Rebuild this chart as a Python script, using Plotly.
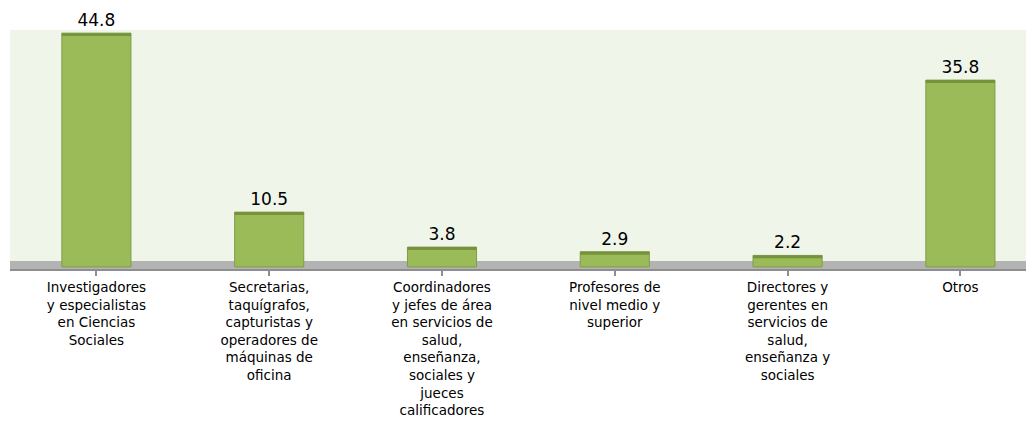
import plotly.graph_objects as go

categories = [
    "Investigadores<br>y especialistas<br>en Ciencias<br>Sociales",
    "Secretarias,<br>taquígrafos,<br>capturistas y<br>operadores de<br>máquinas de<br>oficina",
    "Coordinadores<br>y jefes de área<br>en servicios de<br>salud,<br>enseñanza,<br>sociales y<br>jueces<br>calificadores",
    "Profesores de<br>nivel medio y<br>superior",
    "Directores y<br>gerentes en<br>servicios de<br>salud,<br>enseñanza y<br>sociales",
    "Otros",
]
values = [44.8, 10.5, 3.8, 2.9, 2.2, 35.8]
value_labels = ["44.8", "10.5", "3.8", "2.9", "2.2", "35.8"]

FONT = "DejaVu Sans"
BAR = "#9BBB59"
BAR_EDGE = "#7E9E48"
CAP = "#76923C"
BG = "#F0F5EA"
FLOOR = "#B3B3B3"
FLOOR_LINE = "#8E8E8E"

cap_h = 0.55
idx = list(range(len(values)))

fig = go.Figure()
fig.add_trace(go.Bar(
    x=idx, y=values, width=0.4,
    marker=dict(color=BAR, line=dict(color=BAR_EDGE, width=1)),
    text=value_labels, textposition="outside",
    textfont=dict(family=FONT, size=17, color="#000000"),
    cliponaxis=False, hoverinfo="skip",
))
fig.add_trace(go.Bar(
    x=idx, y=[cap_h] * len(values), base=[v - cap_h for v in values], width=0.4,
    marker=dict(color=CAP, line=dict(width=0)), hoverinfo="skip",
))

# floor band
fig.add_shape(type="rect", xref="paper", yref="y", x0=0, x1=1, y0=-0.4, y1=1.15,
              fillcolor=FLOOR, line=dict(width=0), layer="below")

# page body has an 8px margin, so the figure is sized to fill the rest of the window
fig.update_layout(
    width=1026, height=413,
    margin=dict(l=2, r=0, t=22, b=152),
    paper_bgcolor="white", plot_bgcolor=BG,
    barmode="overlay", showlegend=False,
    xaxis=dict(
        tickmode="array", tickvals=idx, ticktext=categories,
        range=[-0.5, 5.426], tickson="boundaries",
        ticks="outside", ticklen=5, tickwidth=2, tickcolor=FLOOR_LINE,
        showline=True, linecolor=FLOOR_LINE, linewidth=2,
        showgrid=False, zeroline=False, automargin=False,
        tickfont=dict(family=FONT, size=13.5, color="#000000"),
    ),
    yaxis=dict(range=[-0.4, 45.4], visible=False, showgrid=False, zeroline=False),
)

fig.write_html("out.html")
